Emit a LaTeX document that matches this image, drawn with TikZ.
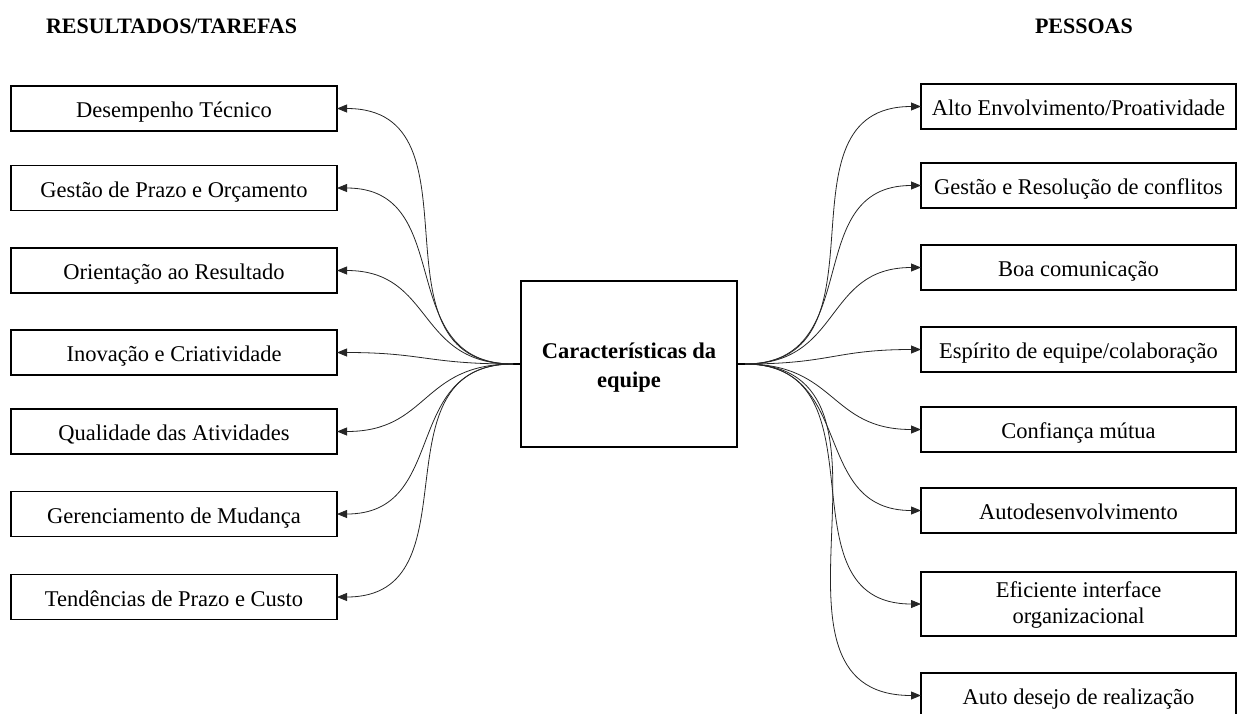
\documentclass[tikz,border=0pt]{standalone}
\usepackage{fontspec}
\setmainfont{Liberation Serif}
\usetikzlibrary{arrows.meta,positioning,calc}

\begin{document}
\begin{tikzpicture}[x=1pt,y=-1pt,
  every node/.style={font=\fontsize{22.5}{26}\selectfont, inner sep=0pt, outer sep=0pt},
  itembox/.style={draw, line width=1.4pt, minimum height=45pt, align=center,
    text height=22pt, text depth=4pt},
  leftbox/.style={itembox, minimum width=326pt},
  rightbox/.style={itembox, minimum width=315pt},
  twoline/.style={minimum height=64pt, text height=42pt, text depth=4pt},
  centerbox/.style={draw, line width=1.4pt, minimum width=216pt, minimum height=166pt,
    align=center, font=\fontsize{22.5}{29}\selectfont\bfseries,
    text height=50pt, text depth=4pt},
  header/.style={font=\fontsize{22}{26}\selectfont\bfseries, anchor=base west},
  conn/.style={line width=0.8pt, draw=black!85,
    -{Triangle[length=10pt,width=8pt]}, looseness=1.25},
  stub/.style={line width=1.2pt}
]
\useasboundingbox (0,0) rectangle (1237,713);

% column headings
\node[header] (hres) at (46,33) {RESULTADOS/TAREFAS};
\node[header] (hpes) at (1035,33) {PESSOAS};

% central node
\node[centerbox] (c) at (629,364) {Características da\\equipe};
\coordinate (hubL) at (513,364);
\coordinate (hubR) at (745,364);
\draw[stub] (c.west) -- (hubL);
\draw[stub] (c.east) -- (hubR);

% results / tasks
\node[leftbox] (l1) at (174,108.5) {Desempenho Técnico};
\node[leftbox] (l2) at (174,188)   {Gestão de Prazo e Orçamento};
\node[leftbox] (l3) at (174,270.5) {Orientação ao Resultado};
\node[leftbox] (l4) at (174,352.5) {Inovação e Criatividade};
\node[leftbox] (l5) at (174,431.5) {Qualidade das Atividades};
\node[leftbox] (l6) at (174,514)   {Gerenciamento de Mudança};
\node[leftbox] (l7) at (174,597)   {Tendências de Prazo e Custo};

% people
\node[rightbox] (r1) at (1078.5,106.5) {Alto Envolvimento/Proatividade};
\node[rightbox] (r2) at (1078.5,185.5) {Gestão e Resolução de conflitos};
\node[rightbox] (r3) at (1078.5,267.5) {Boa comunicação};
\node[rightbox] (r4) at (1078.5,349.5) {Espírito de equipe/colaboração};
\node[rightbox] (r5) at (1078.5,429.5) {Confiança mútua};
\node[rightbox] (r6) at (1078.5,510.5) {Autodesenvolvimento};
\node[rightbox, twoline] (r7) at (1078.5,604) {Eficiente interface\\organizacional};
\node[rightbox] (r8) at (1078.5,695.5) {Auto desejo de realização};

% connectors
\foreach \b in {l1,l2,l3,l4,l5,l6,l7}
  \draw[conn] (hubL) to[out=180,in=0] (\b.east);
\foreach \b in {r1,r2,r3,r4,r5,r6,r7,r8}
  \draw[conn] (hubR) to[out=0,in=180] (\b.west);
\end{tikzpicture}
\end{document}
